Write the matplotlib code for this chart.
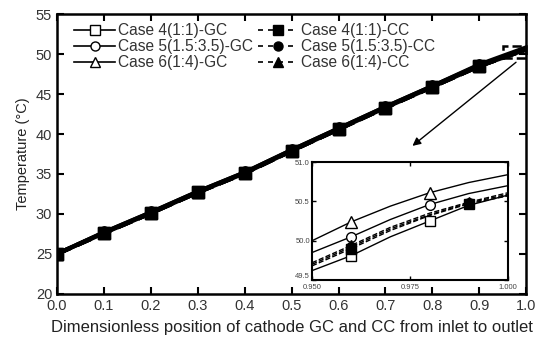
import matplotlib
matplotlib.use("Agg")
import matplotlib.pyplot as plt
from matplotlib.patches import Rectangle
from matplotlib.lines import Line2D

plt.rcParams['font.family'] = ['Liberation Sans', 'DejaVu Sans']

# Main chart data
x_main = [0.0, 0.1, 0.2, 0.3, 0.4, 0.5, 0.6, 0.7, 0.8, 0.9, 1.0]
gc4 = [25.0, 27.6, 30.1, 32.7, 35.1, 37.9, 40.6, 43.3, 45.9, 48.5, 50.58]
gc5 = [25.0, 27.7, 30.2, 32.8, 35.2, 38.0, 40.7, 43.4, 46.0, 48.6, 50.70]
gc6 = [25.0, 27.7, 30.2, 32.8, 35.2, 38.0, 40.7, 43.4, 46.0, 48.7, 50.84]
cc4 = [25.0, 27.6, 30.1, 32.7, 35.1, 37.9, 40.6, 43.3, 45.9, 48.5, 50.57]
cc5 = [25.0, 27.6, 30.1, 32.7, 35.1, 37.9, 40.6, 43.3, 45.9, 48.5, 50.59]
cc6 = [25.0, 27.6, 30.1, 32.7, 35.1, 37.9, 40.6, 43.3, 45.9, 48.5, 50.61]

# Inset (zoomed) data
x_in = [0.950, 0.960, 0.970, 0.980, 0.990, 1.000]
gc4_in = [49.62, 49.81, 50.05, 50.25, 50.45, 50.58]
gc5_in = [49.85, 50.05, 50.27, 50.46, 50.60, 50.70]
gc6_in = [50.00, 50.24, 50.44, 50.61, 50.74, 50.84]
cc4_in = [49.68, 49.90, 50.13, 50.32, 50.47, 50.57]
cc5_in = [49.70, 49.92, 50.15, 50.33, 50.48, 50.59]
cc6_in = [49.72, 49.94, 50.17, 50.35, 50.49, 50.61]

gc_labels = ["Case 4(1:1)-GC", "Case 5(1.5:3.5)-GC", "Case 6(1:4)-GC"]
cc_labels = ["Case 4(1:1)-CC", "Case 5(1.5:3.5)-CC", "Case 6(1:4)-CC"]

fig = plt.figure(figsize=(5.38, 3.37), dpi=100)
ax = fig.add_axes([0.106, 0.128, 0.872, 0.830])

ms = 8
lw = 3.0
mk_main = list(range(10))
ax.plot(x_main, gc4, '-', color='k', lw=lw, marker='s', mfc='white', mec='k', ms=ms, markevery=mk_main)
ax.plot(x_main, gc5, '-', color='k', lw=lw, marker='o', mfc='white', mec='k', ms=ms, markevery=mk_main)
ax.plot(x_main, gc6, '-', color='k', lw=lw, marker='^', mfc='white', mec='k', ms=ms + 1, markevery=mk_main)
ax.plot(x_main, cc4, '--', color='k', lw=lw, marker='s', mfc='k', mec='k', ms=ms, markevery=mk_main)
ax.plot(x_main, cc5, '--', color='k', lw=lw, marker='o', mfc='k', mec='k', ms=ms, markevery=mk_main)
ax.plot(x_main, cc6, '--', color='k', lw=lw, marker='^', mfc='k', mec='k', ms=ms, markevery=mk_main)

ax.set_xlim(0.0, 1.0)
ax.set_ylim(20, 55)
ax.set_xticks([0.0, 0.1, 0.2, 0.3, 0.4, 0.5, 0.6, 0.7, 0.8, 0.9, 1.0])
ax.set_yticks([20, 25, 30, 35, 40, 45, 50, 55])
ax.xaxis.set_major_formatter(matplotlib.ticker.FormatStrFormatter('%.1f'))
ax.tick_params(direction='in', top=True, right=True, length=5, width=1.5,
               labelsize=10.5, colors='k', labelcolor='#333333')
for s in ax.spines.values():
    s.set_linewidth(1.8)
ax.set_xlabel("Dimensionless position of cathode GC and CC from inlet to outlet", fontsize=12, color='#222222', labelpad=5)
ax.set_ylabel("Temperature (\u00b0C)", fontsize=10.5, color='#222222')

# legend with thin handles (column 1: GC, column 2: CC)
def handle(ls, marker, filled):
    return Line2D([], [], ls=ls, color='k', lw=1.2, marker=marker,
                  mfc='k' if filled else 'white', mec='k', ms=6.5)

handles = [handle('-', 's', False), handle('-', 'o', False), handle('-', '^', False),
           handle((0, (3, 3)), 's', True), handle((0, (3, 3)), 'o', True), handle((0, (3, 3)), '^', True)]
leg = ax.legend(handles, gc_labels + cc_labels, ncol=2, loc='upper left',
                frameon=False, fontsize=11.2, handlelength=2.6, handletextpad=0.2,
                columnspacing=0.3, labelspacing=0.05, borderaxespad=0.2,
                bbox_to_anchor=(0.017, 1.0))
for t in leg.get_texts():
    t.set_color('#333333')

# dashed rectangle showing zoom region
ax.add_patch(Rectangle((0.95, 49.5), 0.05, 1.5, fill=False, ls='--', lw=1.8, ec='k', clip_on=False, zorder=5))
ax.annotate('', xy=(0.753, 38.3), xytext=(0.983, 49.2),
            arrowprops=dict(arrowstyle='-|>', color='k', lw=1.0, mutation_scale=12))

# Inset
ins = fig.add_axes([0.580, 0.169, 0.364, 0.350])
ins.plot(x_in, gc4_in, '-', color='k', lw=1.0, marker='s', mfc='white', mec='k', ms=7, markevery=[1, 3])
ins.plot(x_in, gc5_in, '-', color='k', lw=1.0, marker='o', mfc='white', mec='k', ms=7, markevery=[1, 3])
ins.plot(x_in, gc6_in, '-', color='k', lw=1.0, marker='^', mfc='white', mec='k', ms=8, markevery=[1, 3])
ins.plot(x_in, cc5_in, '--', color='k', lw=1.0, marker='o', mfc='k', mec='k', ms=7, markevery=[1, 4])
ins.plot(x_in, cc6_in, '--', color='k', lw=1.0, marker='^', mfc='k', mec='k', ms=7, markevery=[1, 4])
ins.plot(x_in, cc4_in, '--', color='k', lw=1.0, marker='s', mfc='k', mec='k', ms=7, markevery=[1, 4])
ins.set_xlim(0.950, 1.000)
ins.set_ylim(49.5, 51.0)
ins.set_xticks([0.950, 0.975, 1.000])
ins.set_yticks([49.5, 50.0, 50.5, 51.0])
ins.xaxis.set_major_formatter(matplotlib.ticker.FormatStrFormatter('%.3f'))
ins.yaxis.set_major_formatter(matplotlib.ticker.FormatStrFormatter('%.1f'))
ins.tick_params(direction='in', top=True, right=True, length=3, width=1.0,
                labelsize=5.5, pad=1.5, labelcolor='#444444')
ins.tick_params(axis='x', pad=2.5)
for s in ins.spines.values():
    s.set_linewidth(1.5)
fig.canvas.draw()
ins.get_yticklabels()[0].set_va('bottom')

fig.savefig("out.png", dpi=100)
